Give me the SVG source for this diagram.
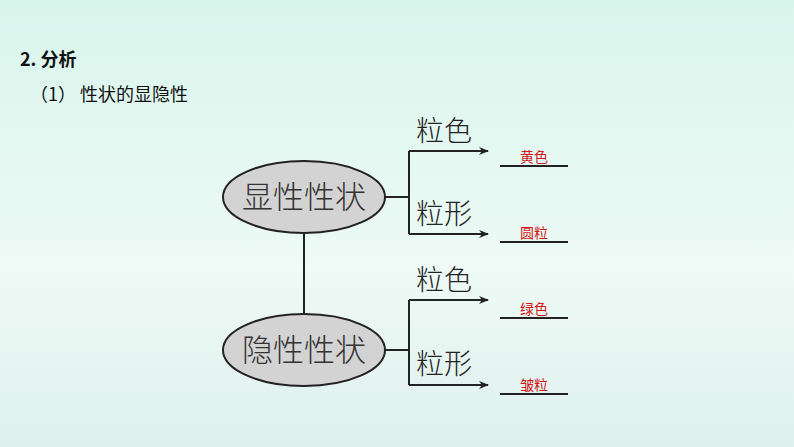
<svg xmlns="http://www.w3.org/2000/svg" width="794" height="447" viewBox="0 0 794 447">
<defs>
<linearGradient id="bg" x1="0" y1="0" x2="0" y2="1"><stop offset="0" stop-color="#d8f5ec"/><stop offset="0.6" stop-color="#eefaf6"/><stop offset="1" stop-color="#dff0ec"/></linearGradient>
<marker id="ar" markerWidth="10" markerHeight="8" refX="9" refY="4" orient="auto" markerUnits="userSpaceOnUse"><path d="M0,0 L10,4 L0,8 L3,4 Z" fill="#222"/></marker>
<style>
.ell{fill:#d3d3d3;stroke:#222;stroke-width:2}
.big{font-family:"Noto Sans CJK SC",sans-serif;font-size:31px;fill:#333;text-anchor:middle;font-weight:300}
.lab{font-family:"Noto Sans CJK SC",sans-serif;font-size:28px;fill:#222;text-anchor:middle;font-weight:300}
.ans{font-family:"Noto Sans CJK SC",sans-serif;font-size:14px;fill:#d01818;text-anchor:middle}
.ln{stroke:#222;stroke-width:2;fill:none}
.hd{font-family:"Noto Sans CJK SC",sans-serif;font-size:18px;fill:#111;font-weight:bold}
</style>
</defs>
<rect width="794" height="447" fill="url(#bg)"/>
<text class="hd" x="20" y="66">2. 分析</text>
<text class="hd" x="30" y="101" style="font-weight:normal">（1） 性状的显隐性</text>
<g id="connectors">
<path class="ln" d="M304,232 V315"/>
<path class="ln" d="M385,197 H409 M409,151 V234"/>
<path class="ln" d="M409,151 H488" marker-end="url(#ar)"/>
<path class="ln" d="M409,234 H488" marker-end="url(#ar)"/>
<path class="ln" d="M385,350 H409 M409,300 V385"/>
<path class="ln" d="M409,300 H488" marker-end="url(#ar)"/>
<path class="ln" d="M409,385 H488" marker-end="url(#ar)"/>
<path class="ln" d="M500,166 H568 M500,242 H568 M500,318 H568 M500,394 H568"/>
</g>
<g id="dominant"><ellipse class="ell" cx="304" cy="197" rx="81" ry="36"/><text class="big" x="304" y="208">显性性状</text></g>
<g id="recessive"><ellipse class="ell" cx="304" cy="350" rx="81" ry="36"/><text class="big" x="304" y="361">隐性性状</text></g>
<g id="labels">
<text class="lab" x="444" y="141">粒色</text>
<text class="lab" x="444" y="224">粒形</text>
<text class="lab" x="444" y="290">粒色</text>
<text class="lab" x="444" y="374">粒形</text>
<text class="ans" x="534" y="162">黄色</text>
<text class="ans" x="534" y="238">圆粒</text>
<text class="ans" x="534" y="314">绿色</text>
<text class="ans" x="534" y="390">皱粒</text>
</g>
</svg>
